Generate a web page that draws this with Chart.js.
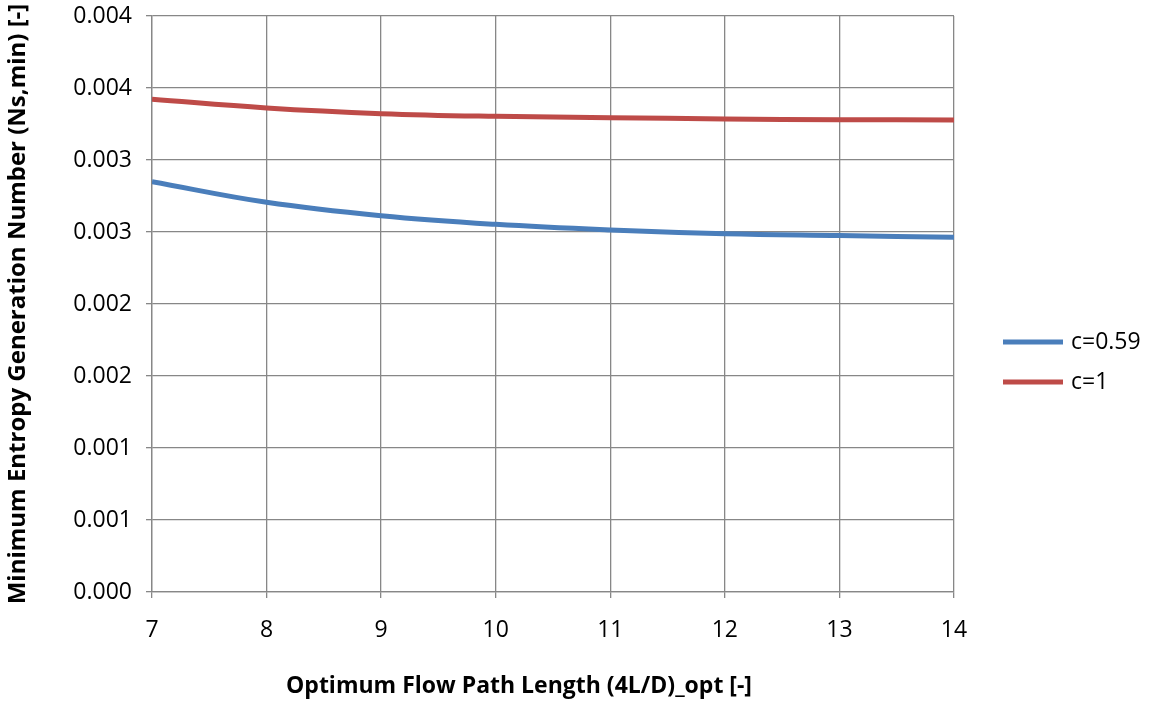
<!DOCTYPE html>
<html>
<head>
<meta charset="utf-8">
<script src="https://cdn.jsdelivr.net/npm/chart.js@4/dist/chart.umd.min.js"></script>
<style>
  html, body { margin: 0; padding: 0; background: #ffffff; }
  #wrap { width: 1154px; height: 704px; }
</style>
</head>
<body>
<div id="wrap"><canvas id="chart" width="1154" height="704"></canvas></div>
<script>
// Optimum flow path length (x) and minimum entropy generation number (y)
const flowPathLength = [7, 8, 9, 10, 11, 12, 13, 14];
const entropyC059 = [0.002849, 0.002706, 0.002613, 0.002553, 0.002514, 0.002488, 0.002475, 0.002463];
const entropyC1   = [0.003422, 0.003361, 0.003322, 0.003303, 0.003294, 0.003285, 0.003280, 0.003278];
const seriesLabels = ['c=0.59', 'c=1'];
const seriesColors = ['#4a7ebb', '#be4b48'];
const yTickLabels = ['0.000', '0.001', '0.001', '0.002', '0.002', '0.003', '0.003', '0.004', '0.004'];
const xTitle = 'Optimum Flow Path Length (4L/D)_opt [-]';
const yTitle = 'Minimum Entropy Generation Number (Ns,min) [-]';

const FONT = '"Open Sans", "Liberation Sans", sans-serif';
const GRID = '#878787';

function toPoints(ys) {
  return flowPathLength.map((x, i) => ({ x: x, y: ys[i] }));
}

// Legend at the right and the x-axis title, placed like the workbook chart
const sideDecor = {
  id: 'sideDecor',
  afterDraw(chart) {
    const ctx = chart.ctx;
    ctx.save();
    chart.data.datasets.forEach((ds, i) => {
      const y = 342 + i * 40;
      ctx.strokeStyle = ds.borderColor;
      ctx.lineWidth = 5;
      ctx.lineCap = 'butt';
      ctx.beginPath();
      ctx.moveTo(1003, y);
      ctx.lineTo(1063, y);
      ctx.stroke();
      ctx.fillStyle = '#000000';
      ctx.font = '23px ' + FONT;
      ctx.textAlign = 'left';
      ctx.textBaseline = 'middle';
      ctx.fillText(ds.label, 1071, y);
    });
    ctx.font = 'bold 23px ' + FONT;
    ctx.textAlign = 'center';
    ctx.textBaseline = 'middle';
    ctx.fillStyle = '#000000';
    ctx.fillText(xTitle, 519, 686);
    ctx.restore();
  }
};

function draw() {
  new Chart(document.getElementById('chart'), {
    type: 'line',
    data: {
      datasets: [
        {
          label: seriesLabels[0],
          data: toPoints(entropyC059),
          borderColor: seriesColors[0],
          backgroundColor: seriesColors[0],
          borderWidth: 5,
          pointRadius: 0,
          tension: 0.4,
          fill: false
        },
        {
          label: seriesLabels[1],
          data: toPoints(entropyC1),
          borderColor: seriesColors[1],
          backgroundColor: seriesColors[1],
          borderWidth: 5,
          pointRadius: 0,
          tension: 0.4,
          fill: false
        }
      ]
    },
    options: {
      responsive: false,
      animation: false,
      devicePixelRatio: 1,
      layout: { padding: { top: 16, right: 200, bottom: 0, left: 0 } },
      plugins: {
        legend: { display: false },
        tooltip: { enabled: false }
      },
      scales: {
        x: {
          type: 'linear',
          min: 7,
          max: 14,
          ticks: {
            stepSize: 1,
            color: '#000000',
            font: { family: FONT, size: 23 },
            padding: 19,
            maxRotation: 0
          },
          grid: { color: GRID, lineWidth: 1.3, tickLength: 6 },
          border: { color: GRID, width: 1.3 },
          afterFit(scale) {
            scale.height = 112;
            scale.paddingLeft = 0;
            scale.paddingRight = 0;
          }
        },
        y: {
          min: 0,
          max: 0.004,
          ticks: {
            stepSize: 0.0005,
            color: '#000000',
            font: { family: FONT, size: 23 },
            padding: 14,
            callback: (v) => yTickLabels[Math.round(v / 0.0005)]
          },
          grid: { color: GRID, lineWidth: 1.3, tickLength: 6 },
          border: { color: GRID, width: 1.3 },
          title: {
            display: true,
            text: yTitle,
            color: '#000000',
            font: { family: FONT, size: 24, weight: 'bold' },
            padding: { top: 4, bottom: 0 }
          },
          afterFit(scale) {
            scale.width = 152;
            scale.paddingTop = 0;
            scale.paddingBottom = 0;
          }
        }
      }
    },
    plugins: [sideDecor]
  });
}

Promise.all([
  document.fonts.load('23px "Open Sans"'),
  document.fonts.load('bold 23px "Open Sans"'),
  document.fonts.load('bold 24px "Open Sans"')
]).then(draw, draw);
</script>
</body>
</html>
